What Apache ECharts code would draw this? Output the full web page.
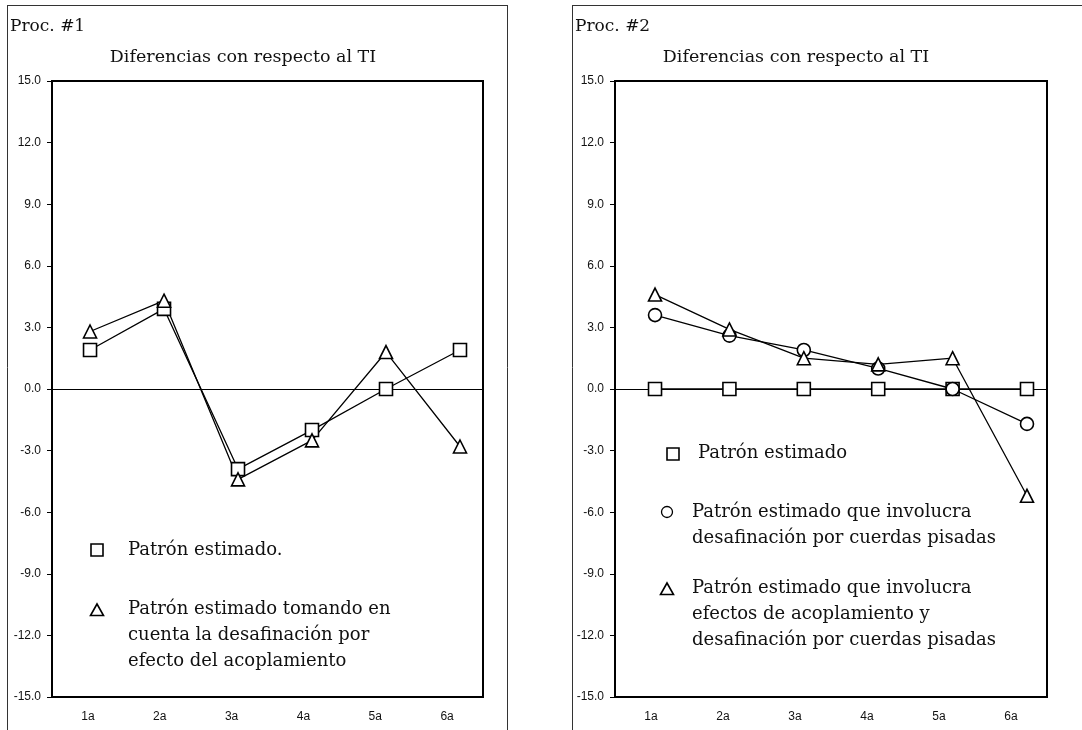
<!DOCTYPE html>
<html>
<head>
<meta charset="utf-8">
<style>
  html, body { margin: 0; padding: 0; background: #fff; }
  #chart { width: 1082px; height: 730px; }
</style>
<script src="https://cdn.jsdelivr.net/npm/echarts@6/dist/echarts.min.js"></script>
</head>
<body>
<div id="chart"></div>
<script>
// Cuerdas (categorías del eje horizontal)
var categories = ['1a', '2a', '3a', '4a', '5a', '6a'];

// Proc. #1 — diferencias con respecto al TI
var proc1Patron = [1.9, 3.9, -3.9, -2.0, 0.0, 1.9];
var proc1Acoplamiento = [2.8, 4.3, -4.4, -2.5, 1.8, -2.8];

// Proc. #2 — diferencias con respecto al TI
var proc2Patron = [0.0, 0.0, 0.0, 0.0, 0.0, 0.0];
var proc2Pisadas = [3.6, 2.6, 1.9, 1.0, 0.0, -1.7];
var proc2AcoplPisadas = [4.6, 2.9, 1.5, 1.2, 1.5, -5.2];

// Escala vertical
var yMin = -15, yMax = 15, yStep = 3;

var serif = '"DejaVu Serif", "Liberation Serif", serif';
var sans = '"Liberation Sans", Arial, sans-serif';

function points(values) {
  return values.map(function (v, i) { return [i + 1, v]; });
}

function lineSeries(name, values, symbol, size, xi, yi, zero) {
  var s = {
    name: name,
    type: 'line',
    xAxisIndex: xi,
    yAxisIndex: yi,
    data: points(values),
    symbol: symbol,
    symbolSize: size,
    showAllSymbol: true,
    lineStyle: { color: '#000', width: 1.3 },
    itemStyle: { color: '#fff', borderColor: '#000', borderWidth: 1.6 },
    z: 3,
    animation: false
  };
  if (zero) {
    s.markLine = {
      silent: true,
      symbol: 'none',
      label: { show: false },
      lineStyle: { color: '#000', width: 1, type: 'solid' },
      data: [{ yAxis: 0 }],
      z: 1,
      animation: false
    };
  }
  return s;
}

var grids = [
  { left: 52, top: 81, width: 431, height: 616 },
  { left: 615, top: 81, width: 432, height: 616 }
];

// rango del eje de valores para que las marcas queden sobre cada cuerda
var xRanges = [[0.486, 6.311], [0.462, 6.269]];

var xAxes = [], yAxes = [];
grids.forEach(function (g, gi) {
  xAxes.push({
    type: 'category',
    gridIndex: gi,
    data: categories,
    boundaryGap: true,
    axisLine: { show: false },
    axisTick: { show: false },
    axisLabel: { color: '#111', fontFamily: sans, fontSize: 12, margin: 14 }
  });
  xAxes.push({
    type: 'value',
    gridIndex: gi,
    min: xRanges[gi][0],
    max: xRanges[gi][1],
    show: false
  });
  yAxes.push({
    type: 'value',
    gridIndex: gi,
    min: yMin,
    max: yMax,
    interval: yStep,
    splitLine: { show: false },
    axisLine: { show: true, lineStyle: { color: '#000', width: 2 } },
    axisTick: { show: true, length: 5, lineStyle: { color: '#000', width: 1 } },
    axisLabel: {
      color: '#111', fontFamily: sans, fontSize: 12, margin: 11,
      formatter: function (v) { return v.toFixed(1); }
    }
  });
});

grids.forEach(function (g) {
  g.show = true;
  g.borderColor = '#000';
  g.borderWidth = 2;
  g.backgroundColor = 'transparent';
});

var legendFont = '18px ' + serif;

function label(x, y, text) {
  return {
    type: 'text', left: x, top: y,
    style: { text: text, fill: '#111', font: legendFont, lineHeight: 26 },
    z: 10
  };
}
function squareIcon(cx, cy) {
  return { type: 'rect', shape: { x: cx - 6, y: cy - 6, width: 12, height: 12 },
    style: { fill: '#fff', stroke: '#000', lineWidth: 1.6 }, z: 10 };
}
function circleIcon(cx, cy) {
  return { type: 'circle', shape: { cx: cx, cy: cy, r: 5.5 },
    style: { fill: '#fff', stroke: '#000', lineWidth: 1.3 }, z: 10 };
}
function triangleIcon(cx, cy) {
  return { type: 'polygon', shape: { points: [[cx, cy - 6], [cx + 6.5, cy + 5.5], [cx - 6.5, cy + 5.5]] },
    style: { fill: '#fff', stroke: '#000', lineWidth: 1.6 }, z: 10 };
}
function frameLine(x1, y1, x2, y2) {
  return { type: 'line', shape: { x1: x1, y1: y1, x2: x2, y2: y2 },
    style: { stroke: '#333', lineWidth: 1 }, z: 0 };
}

var graphics = [
  // marcos de cada panel
  frameLine(7, 5.5, 508, 5.5), frameLine(7.5, 5, 7.5, 730), frameLine(507.5, 5, 507.5, 730),
  frameLine(572, 5.5, 1082, 5.5), frameLine(572.5, 5, 572.5, 730),
  // encabezados
  { type: 'text', left: 10, top: 18, style: { text: 'Proc. #1', fill: '#111', font: '17px ' + serif }, z: 10 },
  { type: 'text', left: 575, top: 18, style: { text: 'Proc. #2', fill: '#111', font: '17px ' + serif }, z: 10 },
  { type: 'text', x: 243, y: 48, style: { text: 'Diferencias con respecto al TI', fill: '#111', font: '17.5px ' + serif, align: 'center' }, z: 10 },
  { type: 'text', x: 796, y: 48, style: { text: 'Diferencias con respecto al TI', fill: '#111', font: '17.5px ' + serif, align: 'center' }, z: 10 },
  // leyenda Proc. #1
  squareIcon(97, 550),
  label(128, 537, 'Patrón estimado.'),
  triangleIcon(97, 610),
  label(128, 596, 'Patrón estimado tomando en\ncuenta la desafinación por\nefecto del acoplamiento'),
  // leyenda Proc. #2
  squareIcon(673, 454),
  label(698, 440, 'Patrón estimado'),
  circleIcon(667, 512),
  label(692, 499, 'Patrón estimado que involucra\ndesafinación por cuerdas pisadas'),
  triangleIcon(667, 589),
  label(692, 575, 'Patrón estimado que involucra\nefectos de acoplamiento y\ndesafinación por cuerdas pisadas')
];

var chart = echarts.init(document.getElementById('chart'), null, { renderer: 'canvas' });
chart.setOption({
  animation: false,
  backgroundColor: '#fff',
  grid: grids,
  xAxis: xAxes,
  yAxis: yAxes,
  series: [
    lineSeries('Patrón estimado.', proc1Patron, 'rect', 13, 1, 0, true),
    lineSeries('Patrón estimado tomando en cuenta la desafinación por efecto del acoplamiento', proc1Acoplamiento, 'triangle', 13, 1, 0, false),
    lineSeries('Patrón estimado', proc2Patron, 'rect', 13, 3, 1, true),
    lineSeries('Patrón estimado que involucra desafinación por cuerdas pisadas', proc2Pisadas, 'circle', 13, 3, 1, false),
    lineSeries('Patrón estimado que involucra efectos de acoplamiento y desafinación por cuerdas pisadas', proc2AcoplPisadas, 'triangle', 13, 3, 1, false)
  ],
  graphic: graphics
});
</script>
</body>
</html>
